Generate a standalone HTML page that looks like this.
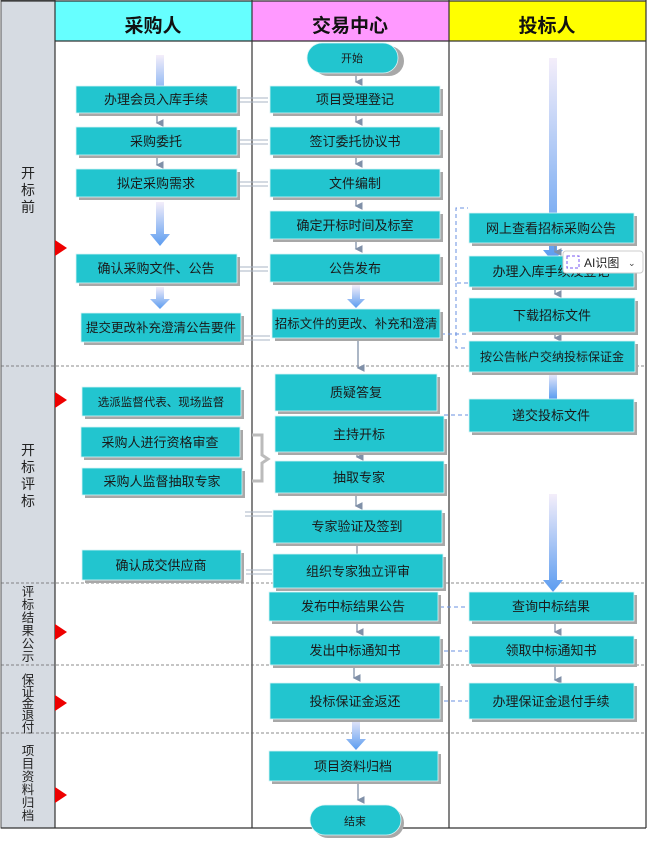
<!DOCTYPE html>
<html><head><meta charset="utf-8"><style>
body{margin:0;background:#fff}
svg text{font-family:"Liberation Sans","Noto Sans CJK SC",sans-serif}
</style></head><body>
<svg width="648" height="838" viewBox="0 0 648 838" xmlns="http://www.w3.org/2000/svg">
<defs>
<linearGradient id="ga" x1="0" y1="0" x2="0" y2="1"><stop offset="0" stop-color="#f4eefa"/><stop offset="1" stop-color="#5b9cf0"/></linearGradient>
<marker id="m" markerWidth="6" markerHeight="6" refX="3" refY="5" orient="auto"><path d="M0,0 L6,0 L3,6Z" fill="#8090a8"/></marker>
</defs>
<rect x="0" y="0" width="648" height="838" fill="#fff"/>
<rect x="1" y="0" width="54" height="828" fill="#d6dbe2" stroke="#555"/>
<rect x="55" y="1" width="197" height="40" fill="#66ffff"/>
<rect x="252" y="1" width="197" height="40" fill="#ff99ff"/>
<rect x="449" y="1" width="197" height="40" fill="#ffff00"/>
<g font-size="19" font-weight="bold" text-anchor="middle" fill="#111">
<text x="153" y="32">采购人</text><text x="350" y="32">交易中心</text><text x="547" y="32">投标人</text></g>
<g stroke="#333" stroke-width="1.2" fill="none">
<line x1="55" y1="41" x2="646" y2="41"/>
<line x1="55" y1="0" x2="55" y2="828"/><line x1="252" y1="0" x2="252" y2="828"/>
<line x1="449" y1="0" x2="449" y2="828"/><line x1="646" y1="0" x2="646" y2="828"/>
<line x1="1" y1="828" x2="646" y2="828"/><line x1="1" y1="1" x2="646" y2="1"/>
</g>
<g stroke="#666" stroke-dasharray="3,2" stroke-width="0.8">
<line x1="1" y1="366" x2="646" y2="366"/><line x1="1" y1="583" x2="646" y2="583"/>
<line x1="1" y1="665" x2="646" y2="665"/><line x1="1" y1="733" x2="646" y2="733"/>
</g>
<g font-size="14" fill="#222" text-anchor="middle">
<text x="28" y="178">开</text><text x="28" y="195">标</text><text x="28" y="212">前</text>
<text x="28" y="455">开</text><text x="28" y="472">标</text><text x="28" y="489">评</text><text x="28" y="506">标</text>
</g>
<g font-size="12.5" fill="#222" text-anchor="middle">
<text x="28" y="596">评</text><text x="28" y="609">标</text><text x="28" y="622">结</text><text x="28" y="635">果</text><text x="28" y="648">公</text><text x="28" y="661">示</text>
<text x="28" y="684">保</text><text x="28" y="696">证</text><text x="28" y="708">金</text><text x="28" y="720">退</text><text x="28" y="732">付</text>
<text x="28" y="755">项</text><text x="28" y="768">目</text><text x="28" y="781">资</text><text x="28" y="794">料</text><text x="28" y="807">归</text><text x="28" y="820">档</text>
</g>
<g fill="#ee0000">
<path d="M55,240 L67,248 L55,256Z"/><path d="M55,392 L67,400 L55,408Z"/>
<path d="M55,624 L67,632 L55,640Z"/><path d="M55,695 L67,703 L55,711Z"/><path d="M55,787 L67,795 L55,803Z"/>
</g>
<g fill="url(#ga)">
<path d="M156,55 h8 v38 h6 l-10,12 l-10,-12 h6z"/>
<path d="M156,202 h8 v32 h6 l-10,12 l-10,-12 h6z"/>
<path d="M156,287 h8 v12 h6 l-10,10 l-10,-10 h6z"/>
<path d="M352,285 h8 v14 h5 l-9,9 l-9,-9 h5z"/>
<path d="M352,717 h8 v22 h6 l-10,11 l-10,-11 h6z"/>
<path d="M549,58 h8 v192 h6 l-10,12 l-10,-12 h6z"/>
<path d="M549,372 h8 v27 h-8z"/>
<path d="M549,494 h8 v86 h6 l-10,12 l-10,-12 h6z"/>
</g>
<g stroke="#8090a8" stroke-width="1.3" marker-end="url(#m)">
<line x1="356" y1="73" x2="356" y2="82"/><line x1="356" y1="113" x2="356" y2="122"/>
<line x1="356" y1="155" x2="356" y2="164"/><line x1="356" y1="197" x2="356" y2="206"/>
<line x1="356" y1="239" x2="356" y2="249"/><line x1="358" y1="338" x2="358" y2="368"/>
<line x1="357" y1="430" x2="357" y2="457"/>
<line x1="356" y1="493" x2="356" y2="506"/><line x1="357" y1="543" x2="357" y2="568"/>
<line x1="357" y1="621" x2="357" y2="632"/><line x1="354" y1="665" x2="354" y2="678"/>
<line x1="358" y1="781" x2="358" y2="800"/>
<line x1="157" y1="113" x2="157" y2="123"/><line x1="157" y1="155" x2="157" y2="165"/>
<line x1="555" y1="243" x2="555" y2="252"/><line x1="555" y1="287" x2="555" y2="294"/>
<line x1="555" y1="332" x2="555" y2="338"/><line x1="555" y1="621" x2="555" y2="632"/>
<line x1="555" y1="664" x2="555" y2="680"/>
</g>
<g stroke="#aab4c4" stroke-width="1">
<line x1="238" y1="98" x2="268" y2="98"/><line x1="238" y1="102" x2="268" y2="102"/>
<line x1="238" y1="140" x2="268" y2="140"/><line x1="238" y1="144" x2="268" y2="144"/>
<line x1="238" y1="182" x2="268" y2="182"/><line x1="238" y1="186" x2="268" y2="186"/>
<line x1="238" y1="267" x2="268" y2="267"/><line x1="238" y1="271" x2="268" y2="271"/>
<line x1="242" y1="336" x2="270" y2="336"/><line x1="242" y1="340" x2="270" y2="340"/>
<line x1="245" y1="512" x2="272" y2="512"/><line x1="245" y1="516" x2="272" y2="516"/>
<line x1="246" y1="570" x2="272" y2="570"/><line x1="246" y1="574" x2="272" y2="574"/>
</g>
<path d="M252,435 h10 v20 l6,4 l-6,4 v18 h-10" fill="none" stroke="#bbb" stroke-width="3"/>
<g stroke="#6a90e0" stroke-dasharray="4,3" fill="none" stroke-width="1">
<path d="M468,283 h-12 v-75 h12"/><path d="M456,283 v65 h12"/><line x1="441" y1="334" x2="468" y2="334"/>
<line x1="444" y1="415" x2="468" y2="415"/><line x1="440" y1="607" x2="468" y2="607"/>
<line x1="444" y1="651" x2="468" y2="651"/><line x1="444" y1="701" x2="468" y2="701"/>
</g>
<g fill="#a8a8a8">
<rect x="79" y="89" width="161" height="27"/><rect x="79" y="130" width="161" height="28"/>
<rect x="79" y="172" width="161" height="28"/><rect x="79" y="257" width="161" height="29"/>
<rect x="84" y="316" width="160" height="29"/><rect x="85" y="390" width="159" height="29"/>
<rect x="84" y="430" width="159" height="30"/><rect x="85" y="471" width="160" height="27"/>
<rect x="85" y="553" width="159" height="30"/>
<rect x="273" y="89" width="170" height="27"/><rect x="273" y="130" width="170" height="28"/>
<rect x="273" y="172" width="170" height="28"/><rect x="273" y="214" width="170" height="28"/>
<rect x="273" y="257" width="170" height="28"/><rect x="275" y="312" width="168" height="29"/>
<rect x="278" y="377" width="162" height="37"/><rect x="278" y="419" width="169" height="36"/>
<rect x="278" y="464" width="169" height="32"/><rect x="276" y="513" width="169" height="33"/>
<rect x="276" y="557" width="170" height="34"/><rect x="272" y="595" width="169" height="29"/>
<rect x="273" y="639" width="170" height="29"/><rect x="273" y="686" width="170" height="36"/>
<rect x="272" y="754" width="169" height="30"/>
<rect x="472" y="216" width="165" height="30"/><rect x="472" y="259" width="165" height="31"/>
<rect x="472" y="301" width="166" height="34"/><rect x="472" y="344" width="166" height="31"/>
<rect x="472" y="402" width="165" height="33"/><rect x="472" y="595" width="165" height="29"/>
<rect x="472" y="639" width="165" height="28"/><rect x="472" y="686" width="165" height="36"/>
<rect x="313" y="46" width="91" height="30" rx="15"/><rect x="313" y="808" width="91" height="30" rx="15"/>
</g>
<g fill="#22c5cf" stroke="#d8f4f6" stroke-width="0.8">
<rect x="76" y="86" width="161" height="27"/><rect x="76" y="127" width="161" height="28"/>
<rect x="76" y="169" width="161" height="28"/><rect x="76" y="254" width="161" height="29"/>
<rect x="81" y="313" width="160" height="29"/><rect x="82" y="387" width="159" height="29"/>
<rect x="81" y="427" width="159" height="30"/><rect x="82" y="468" width="160" height="27"/>
<rect x="82" y="550" width="159" height="30"/>
<rect x="270" y="86" width="170" height="27"/><rect x="270" y="127" width="170" height="28"/>
<rect x="270" y="169" width="170" height="28"/><rect x="270" y="211" width="170" height="28"/>
<rect x="270" y="254" width="170" height="28"/><rect x="272" y="309" width="168" height="29"/>
<rect x="275" y="374" width="162" height="37"/><rect x="275" y="416" width="169" height="36"/>
<rect x="275" y="461" width="169" height="32"/><rect x="273" y="510" width="169" height="33"/>
<rect x="273" y="554" width="170" height="34"/><rect x="269" y="592" width="169" height="29"/>
<rect x="270" y="636" width="170" height="29"/><rect x="270" y="683" width="170" height="36"/>
<rect x="269" y="751" width="169" height="30"/>
<rect x="469" y="213" width="165" height="30"/><rect x="469" y="256" width="165" height="31"/>
<rect x="469" y="298" width="166" height="34"/><rect x="469" y="341" width="166" height="31"/>
<rect x="469" y="399" width="165" height="33"/><rect x="469" y="592" width="165" height="29"/>
<rect x="469" y="636" width="165" height="28"/><rect x="469" y="683" width="165" height="36"/>
<rect x="307" y="43" width="91" height="30" rx="15"/><rect x="310" y="805" width="91" height="30" rx="15"/>
</g>
<g font-size="13" fill="#1a1a1a" text-anchor="middle">
<text x="156" y="104">办理会员入库手续</text><text x="156" y="146">采购委托</text>
<text x="156" y="188">拟定采购需求</text><text x="156" y="273">确认采购文件、公告</text>
<text x="161" y="332" font-size="12.5">提交更改补充澄清公告要件</text><text x="161" y="406" font-size="11.5">选派监督代表、现场监督</text>
<text x="160" y="447">采购人进行资格审查</text><text x="162" y="486">采购人监督抽取专家</text>
<text x="161" y="570">确认成交供应商</text>
<text x="352" y="62" font-size="11">开始</text>
<text x="355" y="104">项目受理登记</text><text x="355" y="146">签订委托协议书</text>
<text x="355" y="188">文件编制</text><text x="355" y="230">确定开标时间及标室</text>
<text x="355" y="273">公告发布</text><text x="356" y="328" font-size="12.5">招标文件的更改、补充和澄清</text>
<text x="356" y="397">质疑答复</text><text x="359" y="439">主持开标</text>
<text x="359" y="482">抽取专家</text><text x="357" y="531">专家验证及签到</text>
<text x="358" y="576">组织专家独立评审</text><text x="353" y="611">发布中标结果公告</text>
<text x="355" y="655">发出中标通知书</text><text x="355" y="706">投标保证金返还</text>
<text x="353" y="771">项目资料归档</text><text x="355" y="825" font-size="11">结束</text>
<text x="551" y="233">网上查看招标采购公告</text><text x="551" y="276">办理入库手续及登记</text>
<text x="552" y="320">下载招标文件</text><text x="552" y="361" font-size="12">按公告帐户交纳投标保证金</text>
<text x="551" y="420">递交投标文件</text><text x="551" y="611">查询中标结果</text>
<text x="551" y="655">领取中标通知书</text><text x="551" y="706">办理保证金退付手续</text>
</g>
<rect x="563" y="251" width="80" height="22" rx="3" fill="#fff" stroke="#ccc"/>
<rect x="567" y="256" width="12" height="12" fill="none" stroke="#7a5af0" stroke-dasharray="3,2"/>
<text x="584" y="267" font-size="12" fill="#222">AI识图</text>
<text x="628" y="266" font-size="9" fill="#444">⌄</text>
</svg>
</body></html>
